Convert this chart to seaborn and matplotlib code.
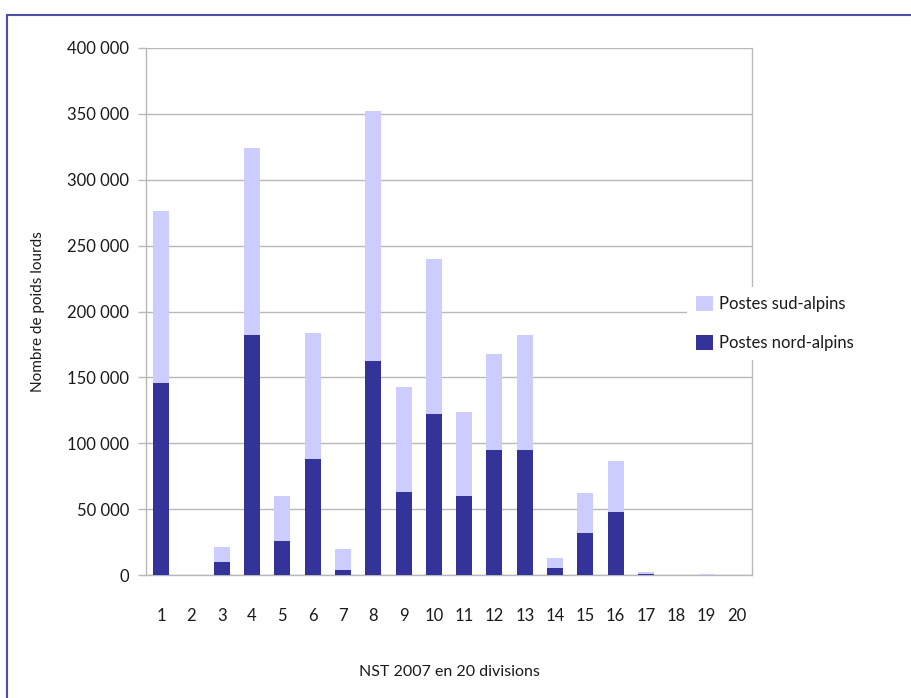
import pandas as pd
import matplotlib
matplotlib.use("Agg")
import matplotlib.pyplot as plt
import seaborn as sns
from matplotlib.patches import Patch, Rectangle
from matplotlib.ticker import FuncFormatter, FixedLocator

# NST 2007 divisions (1..20)
divisions = [str(i) for i in range(1, 21)]

# Postes nord-alpins (dark part)
nord_alpins = [145500, 0, 9800, 181800, 25800, 87900, 3800, 162300, 62900, 121900,
               59800, 94700, 94700, 5300, 31800, 47700, 500, 0, 200, 0]
# Postes sud-alpins (light part, stacked on top)
sud_alpins = [131000, 0, 11400, 142200, 34000, 96100, 15900, 189700, 79500, 118100,
              63700, 72700, 87100, 7600, 30300, 38700, 1800, 0, 600, 0]

y_ticks = [0, 50000, 100000, 150000, 200000, 250000, 300000, 350000, 400000]

DARK = "#333399"
LIGHT = "#ccccff"
GRID = "#b8b8b8"
TEXT = "#1a1a1a"

df = pd.DataFrame({"division": divisions, "nord": nord_alpins, "sud": sud_alpins})
df["total"] = df["nord"] + df["sud"]

sns.set_style("white")
plt.rcParams["font.family"] = ["Lato", "DejaVu Sans"]

fig = plt.figure(figsize=(9.12, 6.98), dpi=100)
ax = fig.add_axes([146 / 912, 1 - 575 / 698, (752 - 146) / 912, (575 - 48) / 698])

sns.barplot(data=df, x="division", y="total", color=LIGHT, width=0.53,
            saturation=1, linewidth=0, ax=ax, zorder=3)
sns.barplot(data=df, x="division", y="nord", color=DARK, width=0.53,
            saturation=1, linewidth=0, ax=ax, zorder=3)

ax.set_xlim(-0.5, 19.5)
ax.set_ylim(0, 400000)
ax.yaxis.set_major_locator(FixedLocator(y_ticks))
ax.yaxis.set_major_formatter(FuncFormatter(lambda v, p: f"{int(v):,}".replace(",", " ")))
ax.grid(axis="y", color=GRID, lw=1, zorder=0)
ax.set_axisbelow(True)

# tick marks between categories, labels at centers
ax.set_xticks(range(20))
ax.set_xticklabels(divisions)
ax.set_xticks([i - 0.5 for i in range(21)], minor=True)
ax.tick_params(axis="x", which="major", length=0, pad=24, labelsize=12, colors=TEXT)
ax.tick_params(axis="x", which="minor", length=5, width=1, color=GRID, direction="out")
ax.tick_params(axis="y", length=6, width=1, color=GRID, pad=6, labelsize=12,
               labelcolor=TEXT, left=True)

for side in ["left", "bottom", "right"]:
    ax.spines[side].set_color(GRID)
    ax.spines[side].set_linewidth(1)
ax.spines["top"].set_visible(False)

ax.set_xlabel("NST 2007 en 20 divisions", fontsize=11.5, color=TEXT, labelpad=29)
ax.set_ylabel("Nombre de poids lourds", fontsize=11, color=TEXT, labelpad=16)

handles = [Patch(facecolor=LIGHT, edgecolor="none", label="Postes sud-alpins"),
           Patch(facecolor=DARK, edgecolor="none", label="Postes nord-alpins")]
leg = ax.legend(handles=handles, loc="upper left",
                bbox_to_anchor=(687 / 912, 1 - 287 / 698), bbox_transform=fig.transFigure,
                borderaxespad=0, frameon=True, fancybox=False, framealpha=1,
                edgecolor="none", facecolor="white", fontsize=12,
                handlelength=1.0, handleheight=1.0, handletextpad=0.4,
                labelspacing=1.35, borderpad=0.55)
for t in leg.get_texts():
    t.set_color(TEXT)

# outer chart border (top and left visible, rest cropped)
fig.patches.append(Rectangle((7 / 912, -0.2), 2, 1 - 15 / 698 + 0.2,
                             transform=fig.transFigure, fill=False,
                             edgecolor="#4d4da6", lw=1.5))

fig.savefig("out.png", dpi=100, facecolor="white")
